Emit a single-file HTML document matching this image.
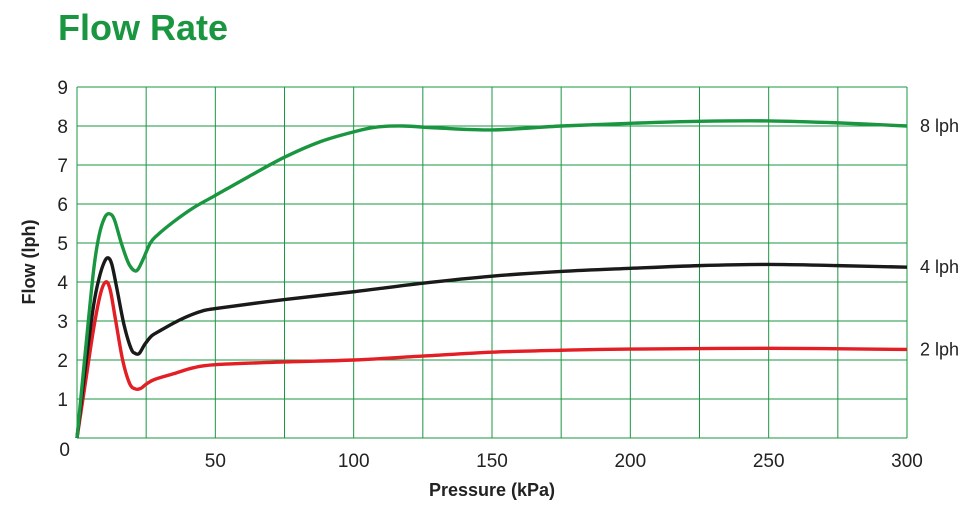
<!DOCTYPE html>
<html><head><meta charset="utf-8"><style>
body{margin:0;background:#fff;width:979px;height:509px;overflow:hidden;font-family:"Liberation Sans",Arial,sans-serif}
</style></head><body>
<svg width="979" height="509">
<text x="58" y="40" font-size="36" font-weight="bold" fill="#1a9641">Flow Rate</text>
<g id="grid"></g>
<g id="axes"></g>
<g id="series"></g>
<text x="35" y="262" font-size="18" font-weight="bold" fill="#222" transform="rotate(-90 35 262)" text-anchor="middle">Flow (lph)</text>
<text x="492" y="496" font-size="18" font-weight="bold" fill="#222" text-anchor="middle">Pressure (kPa)</text>
</svg>
<script>
const xTicks=[0,50,100,150,200,250,300];
const yTicks=[0,1,2,3,4,5,6,7,8,9];
const greenX=[0,3,6,8,10,11.7,13.5,16,18.5,20.5,22,24,26.5,29,35,42,50,62,75,88,100,108,118,130,150,175,200,225,250,275,300];
const greenY=[0,2.2,4.3,5.2,5.65,5.75,5.6,5.0,4.5,4.3,4.32,4.6,5.0,5.2,5.55,5.9,6.22,6.7,7.2,7.6,7.85,7.97,8.0,7.95,7.9,8.0,8.07,8.12,8.13,8.08,8.0];
const blackX=[0,3,6,8,9.8,11.2,12.6,14.5,17,19.5,21,22.5,24.5,27,30,35,40,45,50,75,100,125,150,175,200,225,250,275,300];
const blackY=[0,1.8,3.4,4.1,4.5,4.62,4.45,3.8,2.9,2.3,2.17,2.17,2.4,2.62,2.75,2.95,3.12,3.25,3.32,3.55,3.75,3.97,4.15,4.27,4.35,4.42,4.45,4.42,4.38];
const redX=[0,3,6,8.5,10.4,12,14,16.5,19,21,23,25,28,35,42,50,75,100,125,150,175,200,250,300];
const redY=[0,1.4,2.8,3.7,4.0,3.8,3.0,2.0,1.4,1.26,1.27,1.38,1.5,1.65,1.8,1.88,1.95,2.0,2.1,2.2,2.25,2.28,2.3,2.27];
const labels=["8 lph","4 lph","2 lph"];
const NS="http://www.w3.org/2000/svg";
const X0=77,X1=907,Y0=438,Y1=87;
const sx=v=>X0+(X1-X0)*v/300, sy=v=>Y0-(Y0-Y1)*v/9;
const grid=document.getElementById('grid'),axes=document.getElementById('axes'),ser=document.getElementById('series');
function mk(t,a,p){const e=document.createElementNS(NS,t);for(const k in a)e.setAttribute(k,a[k]);p.appendChild(e);return e;}
for(let k=0;k<=300;k+=25){
 const l=mk('line',{x1:sx(k),x2:sx(k),y1:Y0,y2:Y1,stroke:'#1a9641','stroke-width':1},grid);
 
 
}
yTicks.forEach(v=>{
 const l=mk('line',{x1:X0,x2:X1,y1:sy(v),y2:sy(v),stroke:'#1a9641','stroke-width':1},grid);
 
 
 const t=mk('text',{x:v==0?70:68,y:sy(v)+(v==0?18:7),'font-size':19,fill:'#222','text-anchor':'end'},axes);
 t.textContent=v;
 
 
});
xTicks.forEach(v=>{if(v==0)return;
 const t=mk('text',{x:sx(v),y:467,'font-size':19,fill:'#222','text-anchor':'middle'},axes);
 t.textContent=v;
 
 
});
function path(xs,ys){
 const p=xs.map((x,i)=>[sx(x),sy(ys[i])]);
 let d='M'+p[0][0]+','+p[0][1];
 for(let i=0;i<p.length-1;i++){
  const a=p[i-1]||p[i],b=p[i],c=p[i+1],e=p[i+2]||c;
  d+=' C'+(b[0]+(c[0]-a[0])/6)+','+(b[1]+(c[1]-a[1])/6)+' '+(c[0]-(e[0]-b[0])/6)+','+(c[1]-(e[1]-b[1])/6)+' '+c[0]+','+c[1];
 }
 return d;
}
const S=[[redX,redY,'#e31e24','red-2lph-line'],[blackX,blackY,'#1a1a1a','black-4lph-line'],[greenX,greenY,'#1a9641','green-8lph-line']];
S.forEach(s=>{
 const e=mk('path',{d:path(s[0],s[1]),fill:'none',stroke:s[2],'stroke-width':3.4,'stroke-linejoin':'round'},ser);
 
 
});
[[greenY,0],[blackY,1],[redY,2]].forEach(([ys,i])=>{
 const t=mk('text',{x:920,y:sy(ys[ys.length-1])+6,'font-size':18,fill:'#222'},axes);
 t.textContent=labels[i];
 
 
});
</script>
</body></html>
